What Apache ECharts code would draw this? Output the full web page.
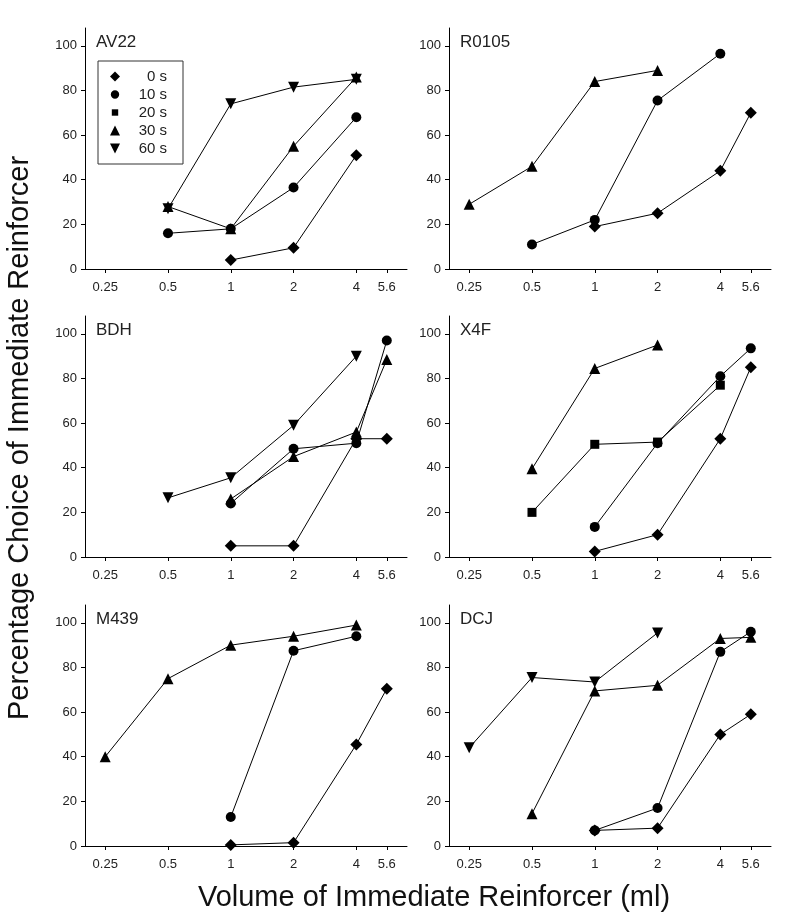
<!DOCTYPE html>
<html>
<head>
<meta charset="utf-8">
<script src="https://cdn.jsdelivr.net/npm/echarts@6/dist/echarts.min.js"></script>
<style>
html,body{margin:0;padding:0;background:#fff;}
#chart{width:800px;height:921px;}
</style>
</head>
<body>
<div id="chart"></div>
<script>
// ---- data ----
const xTickValues = [0.25, 0.5, 1, 2, 4, 5.6];
const yTickValues = [0, 20, 40, 60, 80, 100];
const conditions = ['0 s', '10 s', '20 s', '30 s', '60 s'];
const subjects = ['AV22', 'R0105', 'BDH', 'X4F', 'M439', 'DCJ'];

// [volume (ml), percentage choice]
const av22_0s  = [[1, 4], [2, 9.5], [4, 51]];
const av22_10s = [[0.5, 16], [1, 18], [2, 36.5], [4, 68]];
const av22_30s = [[0.5, 28], [1, 18], [2, 55], [4, 86]];
const av22_60s = [[0.5, 27], [1, 74], [2, 81.5], [4, 85]];

const r0105_0s  = [[1, 19], [2, 25], [4, 44], [5.6, 70]];
const r0105_10s = [[0.5, 11], [1, 22], [2, 75.5], [4, 96.5]];
const r0105_30s = [[0.25, 29], [0.5, 46], [1, 84], [2, 89]];

const bdh_0s  = [[1, 5], [2, 5], [4, 53], [5.6, 53]];
const bdh_10s = [[1, 24], [2, 48.5], [4, 51], [5.6, 97]];
const bdh_30s = [[1, 26], [2, 45], [4, 56], [5.6, 88.5]];
const bdh_60s = [[0.5, 26.5], [1, 35.5], [2, 59], [4, 90]];

const x4f_0s  = [[1, 2.5], [2, 10], [4, 53], [5.6, 85]];
const x4f_10s = [[1, 13.5], [2, 51], [4, 81], [5.6, 93.5]];
const x4f_20s = [[0.5, 20], [1, 50.5], [2, 51.5], [4, 77]];
const x4f_30s = [[0.5, 39.5], [1, 84.5], [2, 95]];

const m439_0s  = [[1, 0.5], [2, 1.5], [4, 45.5], [5.6, 70.5]];
const m439_10s = [[1, 13], [2, 87.5], [4, 94]];
const m439_30s = [[0.25, 40], [0.5, 75], [1, 90], [2, 94], [4, 99]];

const dcj_0s  = [[1, 7], [2, 8], [4, 50], [5.6, 59]];
const dcj_10s = [[1, 7], [2, 17], [4, 87], [5.6, 96]];
const dcj_30s = [[0.5, 14.5], [1, 69.5], [2, 72], [4, 93], [5.6, 93.5]];
const dcj_60s = [[0.25, 44], [0.5, 75.5], [1, 73.5], [2, 95.5]];

const panelSeries = [
  {'0 s': av22_0s, '10 s': av22_10s, '30 s': av22_30s, '60 s': av22_60s},
  {'0 s': r0105_0s, '10 s': r0105_10s, '30 s': r0105_30s},
  {'0 s': bdh_0s, '10 s': bdh_10s, '30 s': bdh_30s, '60 s': bdh_60s},
  {'0 s': x4f_0s, '10 s': x4f_10s, '20 s': x4f_20s, '30 s': x4f_30s},
  {'0 s': m439_0s, '10 s': m439_10s, '30 s': m439_30s},
  {'0 s': dcj_0s, '10 s': dcj_10s, '30 s': dcj_30s, '60 s': dcj_60s}
];

// ---- styling ----
const FONT = '"Liberation Sans", Arial, sans-serif';
const symbolFor = {
  '0 s':  {symbol: 'diamond', size: 12, rotate: 0},
  '10 s': {symbol: 'circle', size: 10, rotate: 0},
  '20 s': {symbol: 'rect', size: 9, rotate: 0},
  '30 s': {symbol: 'triangle', size: 11, rotate: 0},
  '60 s': {symbol: 'triangle', size: 11, rotate: 180}
};
const legendIcons = {
  '0 s': 'diamond',
  '10 s': 'path://M5,0.8 A4.2,4.2 0 1 1 4.99,0.8 Z M0,0 M10,10',
  '20 s': 'path://M1.8,1.8 L8.2,1.8 L8.2,8.2 L1.8,8.2 Z M0,0 M10,10',
  '30 s': 'triangle',
  '60 s': 'path://M0,0 L10,0 L5,10 Z'
};

const colLeft = [85, 449];
const rowTop = [28, 316, 605];
const gridW = 322, gridH = 241;

const log2 = v => Math.log(v) / Math.LN2;
const xTickPos = xTickValues.map(log2);
function xLabel(v) {
  let best = 0, bd = Infinity;
  xTickPos.forEach((p, i) => { const d = Math.abs(p - v); if (d < bd) { bd = d; best = i; } });
  return String(xTickValues[best]);
}

const grids = [], xAxes = [], yAxes = [], series = [], titles = [];
subjects.forEach((name, i) => {
  const left = colLeft[i % 2], top = rowTop[Math.floor(i / 2)];
  grids.push({left: left, top: top, width: gridW, height: gridH});
  xAxes.push({
    type: 'value', gridIndex: i, min: log2(0.2), max: log2(7),
    axisLine: {show: true, onZero: false, lineStyle: {color: '#000', width: 1}},
    axisTick: {show: true, inside: false, length: 4, customValues: xTickPos, lineStyle: {color: '#000', width: 1}},
    axisLabel: {customValues: xTickPos, formatter: xLabel, fontSize: 13, color: '#222', margin: 12, fontFamily: FONT},
    splitLine: {show: false}
  });
  yAxes.push({
    type: 'value', gridIndex: i, min: 0, max: 108,
    axisLine: {show: true, onZero: false, lineStyle: {color: '#000', width: 1}},
    axisTick: {show: true, inside: false, length: 4, customValues: yTickValues, lineStyle: {color: '#000', width: 1}},
    axisLabel: {customValues: yTickValues, fontSize: 13, color: '#222', margin: 8, fontFamily: FONT},
    splitLine: {show: false}
  });
  titles.push({
    text: name, left: left + 11, top: top + 6, padding: 0,
    textStyle: {fontSize: 17, fontWeight: 'normal', color: '#222', fontFamily: FONT}
  });
  const ps = panelSeries[i];
  conditions.forEach(c => {
    if (!ps[c]) return;
    const s = symbolFor[c];
    series.push({
      type: 'line', name: c, xAxisIndex: i, yAxisIndex: i,
      symbol: s.symbol, symbolSize: s.size, symbolRotate: s.rotate,
      showAllSymbol: true, animation: false,
      lineStyle: {color: '#000', width: 1},
      itemStyle: {color: '#000', borderColor: '#000', borderWidth: 0},
      data: ps[c].map(d => [log2(d[0]), d[1]]),
      z: 2
    });
  });
});

const chart = echarts.init(document.getElementById('chart'), null, {renderer: 'canvas'});
chart.setOption({
  backgroundColor: '#fff',
  animation: false,
  title: titles,
  grid: grids,
  xAxis: xAxes,
  yAxis: yAxes,
  legend: {
    orient: 'vertical', left: 98, top: 61,
    selectedMode: false,
    borderColor: '#333', borderWidth: 1,
    padding: [8, 16, 8, 12],
    itemGap: 3, itemWidth: 10, itemHeight: 10,
    data: conditions.map(c => ({name: c, icon: legendIcons[c]})),
    itemStyle: {color: '#000', borderWidth: 0},
    formatter: n => '{n|' + n + '}',
    textStyle: {
      fontSize: 15, color: '#222', fontFamily: FONT,
      rich: {n: {width: 42, align: 'right', fontSize: 15, color: '#222', fontFamily: FONT}}
    }
  },
  graphic: [
    {
      type: 'text', x: 20, y: 438, rotation: Math.PI / 2,
      style: {text: 'Percentage Choice of Immediate Reinforcer', font: '29px ' + FONT, fill: '#111', textAlign: 'center', textVerticalAlign: 'middle'}
    },
    {
      type: 'text', x: 434, y: 898,
      style: {text: 'Volume of Immediate Reinforcer (ml)', font: '29px ' + FONT, fill: '#111', textAlign: 'center', textVerticalAlign: 'middle'}
    }
  ],
  series: series
});
</script>
</body>
</html>
